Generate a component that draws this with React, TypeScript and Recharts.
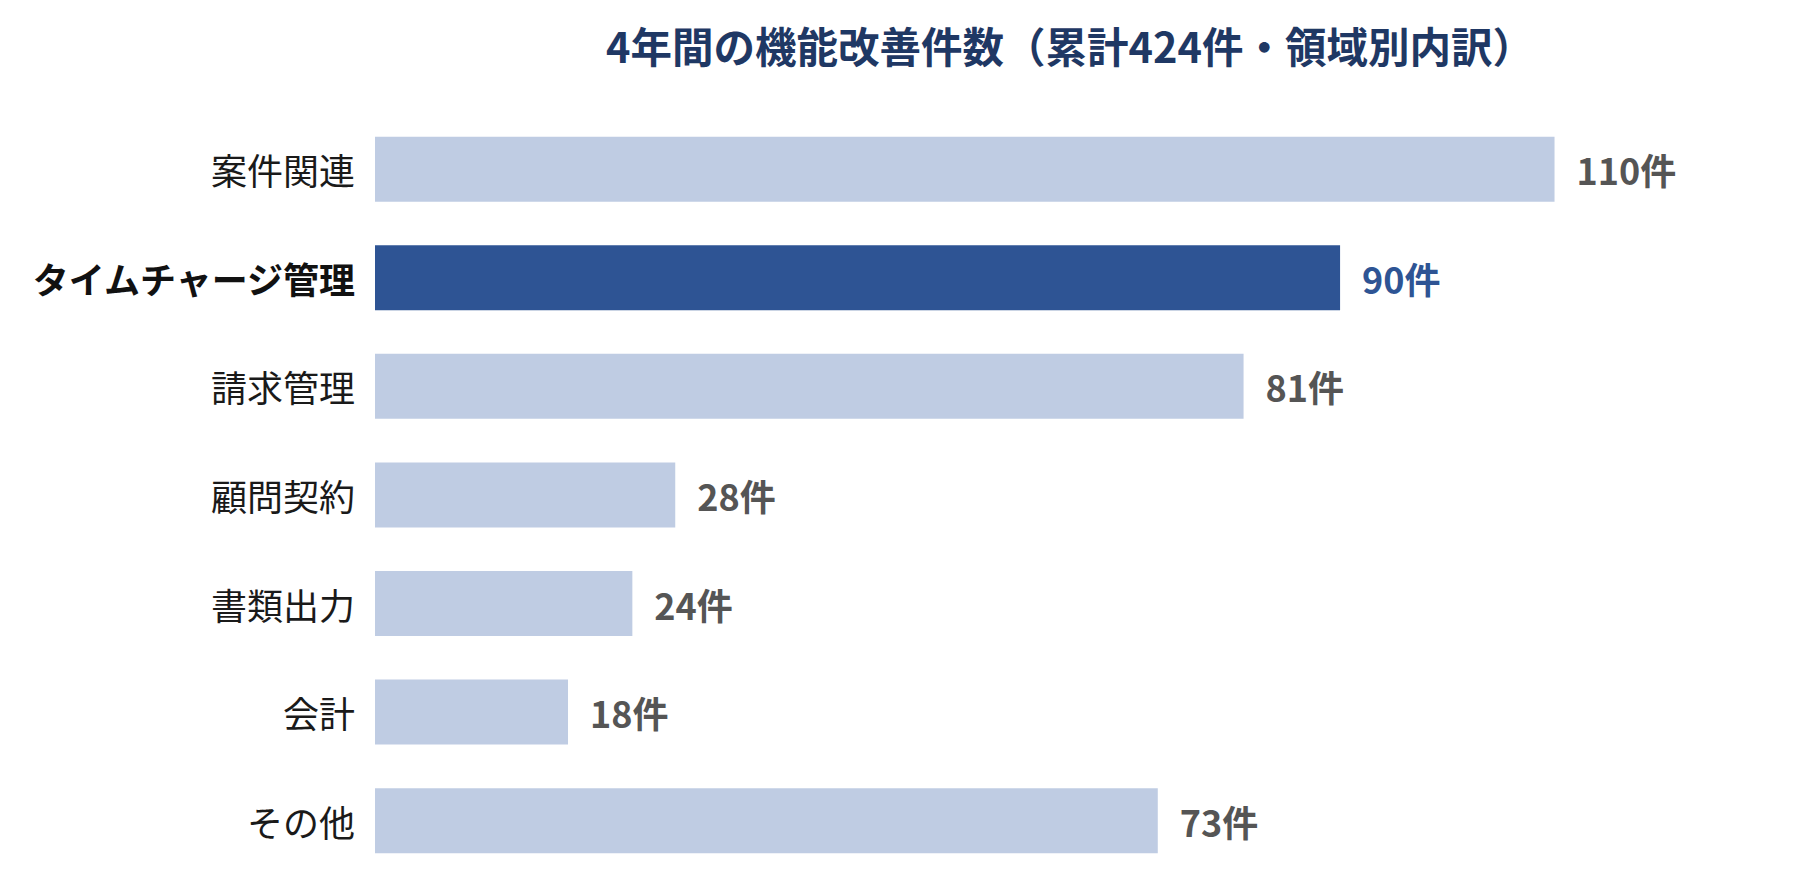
import React from "react";
import { BarChart, Bar, XAxis, YAxis, Cell, LabelList } from "recharts";

const categories = ["案件関連", "タイムチャージ管理", "請求管理", "顧問契約", "書類出力", "会計", "その他"];
const counts = [110, 90, 81, 28, 24, 18, 73];
const highlight = "タイムチャージ管理";
const unit = "件";
const title = "4年間の機能改善件数（累計424件・領域別内訳）";

const data = categories.map((name, i) => ({ name, value: counts[i] }));

const FONT = "'Noto Sans CJK JP', 'Noto Sans', sans-serif";
const LIGHT = "#bfcce3";
const DARK = "#2e5494";

const CategoryTick = (props: any) => {
  const { x, y, payload } = props;
  const hi = payload.value === highlight;
  return (
    <text
      x={x}
      y={y}
      textAnchor="end"
      dominantBaseline="central"
      fontFamily={FONT}
      fontSize={36}
      fontWeight={hi ? 700 : 400}
      fill={hi ? "#111111" : "#1a1a1a"}
    >
      {payload.value}
    </text>
  );
};

const ValueLabel = (props: any) => {
  const { x, y, width, height, value, index } = props;
  const hi = categories[index] === highlight;
  return (
    <text
      x={x + width + 22}
      y={y + height / 2}
      textAnchor="start"
      dominantBaseline="central"
      fontFamily={FONT}
      fontSize={36}
      fontWeight={700}
      fill={hi ? DARK : "#555555"}
    >
      {`${value}${unit}`}
    </text>
  );
};

export default function App() {
  return (
    <div style={{ position: "relative", width: 1792, height: 870 }}>
      <svg
        width={1792}
        height={100}
        style={{ position: "absolute", left: 0, top: 0 }}
      >
        <text
          x={598}
          y={55}
          textAnchor="start"
          fontFamily={FONT}
          fontSize={41.5}
          fontWeight={700}
          fill="#1f3864"
        >
          {title}
        </text>
      </svg>
      <div style={{ position: "absolute", left: 0, top: 0 }}>
        <BarChart
          width={1792}
          height={870}
          data={data}
          layout="vertical"
          margin={{ top: 107, right: 31, bottom: 3, left: 0 }}
          barCategoryGap="20%"
        >
          <XAxis type="number" domain={[0, 130]} hide />
          <YAxis
            type="category"
            dataKey="name"
            width={367}
            axisLine={false}
            tickLine={false}
            tickMargin={14}
            tick={<CategoryTick />}
            interval={0}
          />
          <Bar dataKey="value" isAnimationActive={false}>
            {data.map((d) => (
              <Cell key={d.name} fill={d.name === highlight ? DARK : LIGHT} />
            ))}
            <LabelList dataKey="value" content={<ValueLabel />} />
          </Bar>
        </BarChart>
      </div>
    </div>
  );
}
